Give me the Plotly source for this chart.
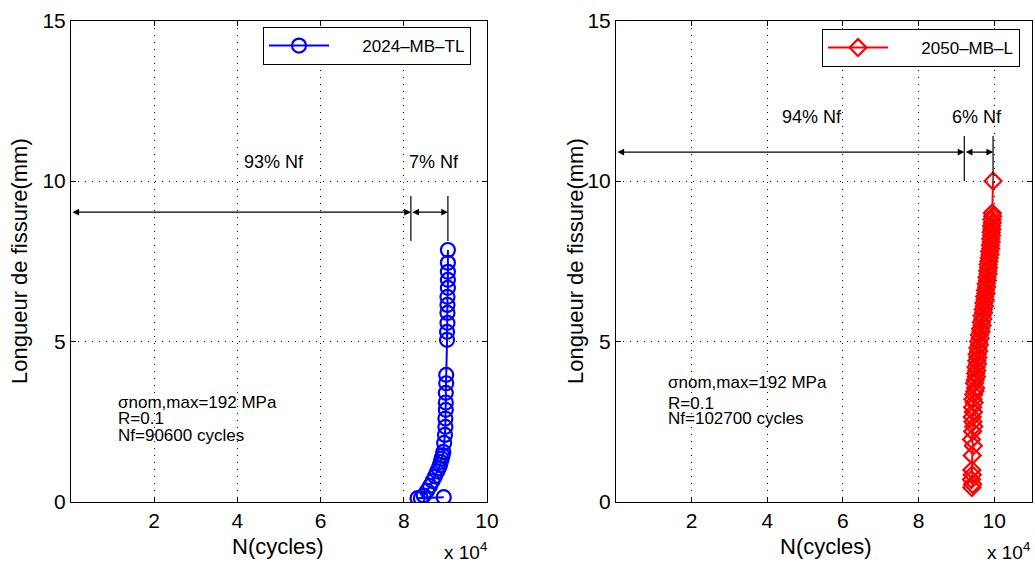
import plotly.graph_objects as go

# crack length vs cycles, two alloys
N_2024 = [89600, 83300, 84100, 84800, 85600, 86300, 86900, 87500, 88000, 88400,
          88700, 88900, 89100, 89300, 89500, 89700, 89900, 90000, 90000, 90100,
          90100, 90100, 90200, 90200, 90400, 90400, 90500, 90500, 90500, 90500,
          90600, 90600, 90600, 90600, 90600]
L_2024 = [0.15, 0.12, 0.12, 0.2, 0.35, 0.5, 0.65, 0.8, 0.95, 1.05,
          1.15, 1.25, 1.35, 1.45, 1.56, 1.84, 2.09, 2.34, 2.6, 2.87,
          3.1, 3.4, 3.7, 3.96, 5.05, 5.3, 5.58, 5.89, 6.14, 6.39,
          6.67, 6.92, 7.17, 7.45, 7.85]

N_2050 = [94100, 94300, 94000, 94200, 94100, 94200, 94500, 94000, 94300, 94600,
          94400, 94200, 94500, 94300, 94700, 94400, 94600, 94900, 95100, 94800,
          95000, 95300, 95100, 95400, 95200, 95600, 95400, 95700, 95500, 95900,
          95700, 96100, 95900, 96300, 96100, 96500, 96400, 96800, 96600, 97000,
          96800, 97200, 97100, 97400, 97300, 97600, 97500, 97800, 97700, 98000,
          97900, 98200, 98100, 98400, 98300, 98500, 98400, 98600, 98700, 98900,
          98800, 99100, 99000, 99200, 99100, 99300, 99200, 99400, 99300, 99500,
          99400, 99600, 99500, 99700]
L_2050 = [0.45, 0.55, 0.7, 0.85, 1.0, 1.45, 1.75, 1.95, 2.2, 2.35,
          2.5, 2.65, 2.8, 2.95, 3.1, 3.2, 3.35, 3.45, 3.55, 3.7,
          3.8, 3.9, 4.0, 4.1, 4.2, 4.3, 4.4, 4.5, 4.6, 4.7,
          4.8, 4.9, 5.0, 5.1, 5.2, 5.3, 5.4, 5.5, 5.6, 5.7,
          5.8, 5.9, 6.0, 6.1, 6.2, 6.3, 6.4, 6.5, 6.6, 6.7,
          6.8, 6.9, 7.0, 7.1, 7.2, 7.3, 7.4, 7.5, 7.6, 7.7,
          7.8, 7.9, 8.0, 8.1, 8.2, 8.3, 8.4, 8.5, 8.6, 8.7,
          8.8, 8.9, 9.0, 10.0]

x_ticks = [20000, 40000, 60000, 80000, 100000]
x_ticktext = ['2', '4', '6', '8', '10']
y_ticks = [0, 5, 10, 15]

# life split markers (start / split / end cycles, arrow height)
split_2024 = [0, 81700, 90600, 9.03]
split_2050 = [0, 92100, 99700, 10.9]

FONT = 'Liberation Sans, Arial, sans-serif'
W, H = 1035, 566
PAD = '\u00a0' * 6


def px(x):
    return x / W


def py(y):
    return 1 - y / H


fig = go.Figure()
fig.add_trace(go.Scatter(x=N_2024, y=L_2024, mode='lines+markers', name=PAD + '2024–MB–TL',
                         line=dict(color='#0000ff', width=2),
                         marker=dict(symbol='circle-open', size=14, color='#0000ff',
                                     line=dict(width=2.2, color='#0000ff')),
                         xaxis='x', yaxis='y', legend='legend', showlegend=True))
fig.add_trace(go.Scatter(x=N_2050, y=L_2050, mode='lines+markers', name=PAD + '2050–MB–L',
                         line=dict(color='#ff0000', width=2),
                         marker=dict(symbol='diamond-open', size=13, color='#ff0000',
                                     line=dict(width=2.2, color='#ff0000')),
                         xaxis='x2', yaxis='y2', legend='legend2', showlegend=True))

ax_common = dict(showline=True, linecolor='black', linewidth=1, mirror='ticks',
                 ticks='inside', ticklen=5, tickcolor='black',
                 showgrid=True, gridcolor='black', griddash='1px,6px', gridwidth=1,
                 zeroline=False, automargin=False,
                 tickfont=dict(family=FONT, size=21, color='black'))

ydom = [py(502), py(20.5)]
leg_common = dict(xanchor='left', yanchor='top', bordercolor='black', borderwidth=1,
                  bgcolor='white', font=dict(family=FONT, size=17, color='black'),
                  itemwidth=60)

fig.update_layout(
    width=W, height=H,
    template='none', showlegend=True,
    paper_bgcolor='white', plot_bgcolor='white',
    margin=dict(l=0, r=0, t=0, b=0),
    font=dict(family=FONT, color='black'),
    xaxis=dict(domain=[px(71), px(487)], range=[0, 100000],
               tickvals=x_ticks, ticktext=x_ticktext, anchor='y', **ax_common),
    yaxis=dict(domain=ydom, range=[0, 15], tickvals=y_ticks, anchor='x', **ax_common),
    xaxis2=dict(domain=[px(616), px(1032)], range=[0, 110000],
                tickvals=x_ticks, ticktext=x_ticktext, anchor='y2', **ax_common),
    yaxis2=dict(domain=ydom, range=[0, 15], tickvals=y_ticks, anchor='x2', **ax_common),
    legend=dict(x=px(263), y=py(27), **leg_common),
    legend2=dict(x=px(822), y=py(29), **leg_common),
)


def add_split(xr, yr, split, texts, text_y, text_x):
    x0, x1, x2, yh = split
    for a, b in [(x0, x1), (x1, x2)]:
        fig.add_annotation(x=b, y=yh, ax=a, ay=yh, xref=xr, yref=yr, axref=xr, ayref=yr,
                           showarrow=True, arrowhead=2, startarrowhead=2, arrowside='end+start',
                           arrowsize=1.1, startarrowsize=1.1, arrowwidth=1.2,
                           arrowcolor='black', standoff=0, startstandoff=0, text='')
    for xv in (x1, x2):
        fig.add_shape(type='line', xref=xr, yref=yr, x0=xv, x1=xv,
                      y0=yh - 0.9, y1=yh + 0.5, line=dict(color='black', width=1.2))
    for t, tx in zip(texts, text_x):
        fig.add_annotation(x=tx, y=text_y, xref=xr, yref=yr, text=t, showarrow=False,
                           xanchor='center', yanchor='middle',
                           font=dict(family=FONT, size=18, color='black'))


add_split('x', 'y', split_2024, ['93% Nf', '7% Nf'], 10.6, [48900, 87300])
add_split('x2', 'y2', split_2050, ['94% Nf', '6% Nf'], 12.0, [51900, 95400])


def info(xr, yr, x, ys, lines):
    for yv, t in zip(ys, lines):
        fig.add_annotation(x=x, y=yv, xref=xr, yref=yr, text=t, showarrow=False,
                           xanchor='left', yanchor='middle',
                           font=dict(family=FONT, size=17, color='black'))


info('x', 'y', 10800, [3.1, 2.6, 2.07],
     ['σnom,max=192 MPa', 'R=0.1', 'Nf=90600 cycles'])
info('x2', 'y2', 13300, [3.73, 3.08, 2.6],
     ['σnom,max=192 MPa', 'R=0.1', 'Nf=102700 cycles'])

# axis labels and exponent
for xc in (20, 576):
    fig.add_annotation(x=px(xc), y=py(261), xref='paper', yref='paper',
                       xanchor='center', yanchor='middle',
                       text='Longueur de fissure(mm)', textangle=-90, showarrow=False,
                       font=dict(family=FONT, size=22, color='black'))
for xc in (278, 826):
    fig.add_annotation(x=px(xc), y=py(546), xref='paper', yref='paper',
                       xanchor='center', yanchor='middle',
                       text='N(cycles)', showarrow=False,
                       font=dict(family=FONT, size=22, color='black'))
for xc in (489, 1032):
    fig.add_annotation(x=px(xc), y=py(565), xref='paper', yref='paper',
                       xanchor='right', yanchor='bottom', text='x 10<sup>4</sup>',
                       showarrow=False, font=dict(family=FONT, size=19, color='black'))

# drop the default page margin so the figure sits at the window's corner
fig.write_html("out.html", config={'displayModeBar': False},
               post_script="document.body.style.margin='0';")
